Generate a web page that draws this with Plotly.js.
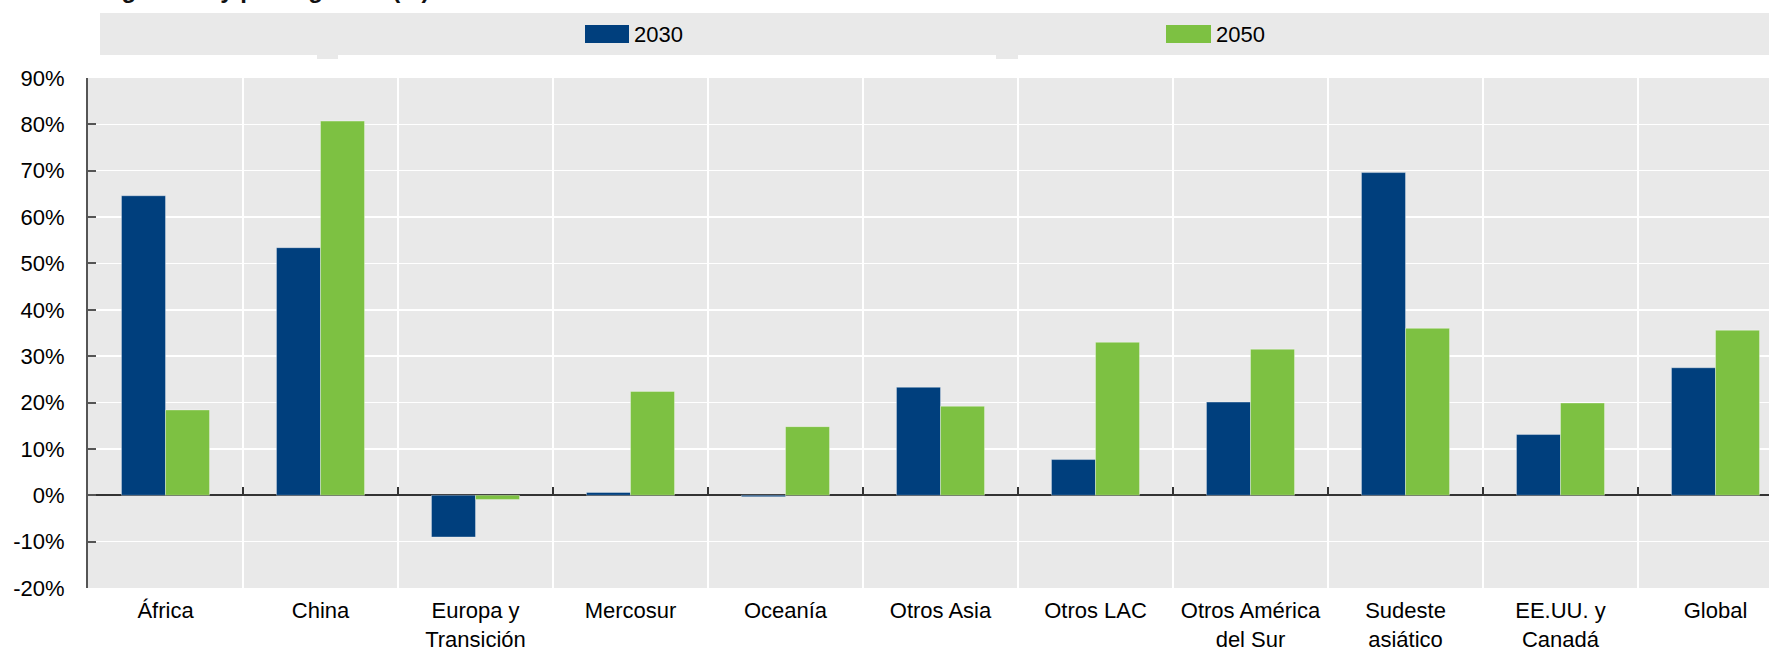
<!DOCTYPE html>
<html>
<head>
<meta charset="utf-8">
<script src="https://cdn.plot.ly/plotly-3.0.1.min.js"></script>
<style>
  html, body { margin: 0; padding: 0; background: #ffffff; overflow: hidden; }
  #chart { width: 1769px; height: 652px; }
</style>
</head>
<body>
<div id="chart"></div>
<script>
// ---- Data ----
const categories = ['África', 'China', 'Europa y<br>Transición', 'Mercosur', 'Oceanía', 'Otros Asia',
  'Otros LAC', 'Otros América<br>del Sur', 'Sudeste<br>asiático', 'EE.UU. y<br>Canadá', 'Global'];
const seriesNames = ['2030', '2050'];
const values2030 = [64.6, 53.4, -9.0, 0.6, -0.3, 23.3, 7.7, 20.1, 69.6, 13.1, 27.5];
const values2050 = [18.4, 80.7, -0.9, 22.4, 14.8, 19.2, 33.0, 31.5, 36.0, 19.9, 35.6];
const seriesColors = ['#003f7d', '#7dc142'];
const yTickValues = [-20, -10, 0, 10, 20, 30, 40, 50, 60, 70, 80, 90];
const titleText = 'Crecimiento de las emisiones agrícolas y por regiones (%)';

// ---- Layout geometry ----
const W = 1769, H = 652;
const M = { l: 88, r: 0, t: 78, b: 64 };
const plotW = W - M.l - M.r, plotH = H - M.t - M.b;
const catWidthPx = 155;
const xMax = -0.5 + plotW / catWidthPx;
const yRange = [-20, 90];
const zeroFrac = (0 - yRange[0]) / (yRange[1] - yRange[0]);
const px2x = px => (px - M.l) / plotW;
const px2y = py => (M.t + plotH - py) / plotH;

const FONT = 'Liberation Sans, Arial, sans-serif';
const BG = '#e9e9e9';

const traces = [values2030, values2050].map((vals, i) => ({
  type: 'bar',
  name: seriesNames[i],
  x: categories,
  y: vals,
  marker: { color: seriesColors[i], line: { color: 'rgba(255,255,255,0.35)', width: 1 } },
  showlegend: false,
  hoverinfo: 'x+y'
}));
// helper trace so the zero-line tick axis is drawn
traces.push({
  type: 'scatter', x: categories, y: categories.map(() => null), xaxis: 'x2', yaxis: 'y',
  showlegend: false, hoverinfo: 'skip', mode: 'markers'
});

// Manual legend (large swatches)
const legendItems = [
  { swatch: [585, 629], text: 632 },
  { swatch: [1166, 1211], text: 1214 }
];
const shapes = [
  { type: 'rect', xref: 'paper', yref: 'paper', x0: px2x(100), x1: px2x(W + 5),
    y0: px2y(55), y1: px2y(13), fillcolor: BG, line: { width: 0 }, layer: 'below' },
  { type: 'rect', xref: 'paper', yref: 'paper', x0: px2x(317), x1: px2x(338),
    y0: px2y(59), y1: px2y(55), fillcolor: BG, line: { width: 0 }, layer: 'below' },
  { type: 'rect', xref: 'paper', yref: 'paper', x0: px2x(996), x1: px2x(1018),
    y0: px2y(59), y1: px2y(55), fillcolor: BG, line: { width: 0 }, layer: 'below' }
];
const annotations = [];
seriesNames.forEach((nm, i) => {
  const it = legendItems[i];
  shapes.push({ type: 'rect', xref: 'paper', yref: 'paper', x0: px2x(it.swatch[0]), x1: px2x(it.swatch[1]),
    y0: px2y(43), y1: px2y(25), fillcolor: seriesColors[i], line: { width: 0 } });
  annotations.push({ xref: 'paper', yref: 'paper', x: px2x(it.text), y: px2y(34), xanchor: 'left', yanchor: 'middle',
    text: nm, showarrow: false, font: { family: FONT, size: 22, color: '#000' } });
});
annotations.push({
  xref: 'paper', yref: 'paper', x: px2x(432), y: px2y(4.5), xanchor: 'right', yanchor: 'bottom',
  text: '<b>' + titleText + '</b>', showarrow: false, font: { family: FONT, size: 24, color: '#111111' }
});

const layout = {
  width: W, height: H,
  margin: M,
  paper_bgcolor: '#ffffff',
  plot_bgcolor: BG,
  font: { family: FONT, size: 22, color: '#000' },
  barmode: 'group',
  bargap: 0.432,
  bargroupgap: 0,
  xaxis: {
    type: 'category',
    range: [-0.5, xMax],
    tickson: 'boundaries',
    showgrid: true, gridcolor: '#ffffff', gridwidth: 1.5,
    ticks: '', showline: false, zeroline: false,
    ticklabelstandoff: 7,
    tickfont: { family: FONT, size: 22, color: '#000' },
    fixedrange: true
  },
  xaxis2: {
    type: 'category', overlaying: 'x', matches: 'x', anchor: 'free', position: zeroFrac,
    tickson: 'boundaries', ticks: 'inside', ticklen: 8, tickwidth: 2, tickcolor: '#333',
    showticklabels: false, showgrid: false, showline: false, zeroline: false
  },
  yaxis: {
    range: yRange,
    tickmode: 'array', tickvals: yTickValues, ticktext: yTickValues.map(v => v + '%'),
    showgrid: true, gridcolor: '#ffffff', gridwidth: 1.5,
    zeroline: true, zerolinecolor: '#333333', zerolinewidth: 2,
    showline: true, linecolor: '#555555', linewidth: 2,
    ticks: 'inside', ticklen: 8, tickwidth: 2, tickcolor: '#555555',
    ticklabelstandoff: 17,
    tickfont: { family: FONT, size: 22, color: '#000' },
    fixedrange: true
  },
  shapes: shapes,
  annotations: annotations,
  showlegend: false
};

Plotly.newPlot('chart', traces, layout, { displayModeBar: false, staticPlot: true });
</script>
</body>
</html>
